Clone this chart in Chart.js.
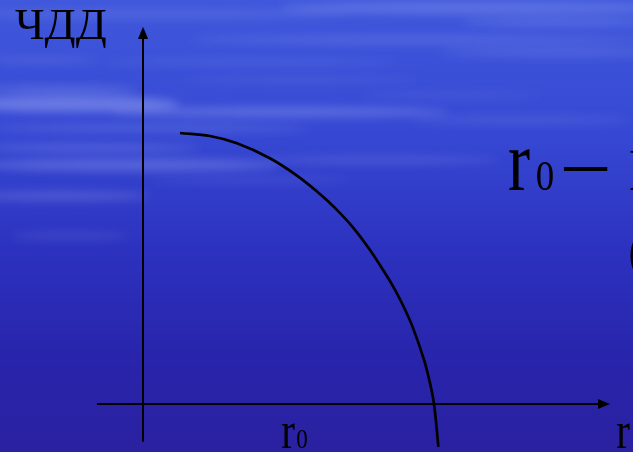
<!DOCTYPE html>
<html><head><meta charset="utf-8">
<script src="https://cdn.jsdelivr.net/npm/chart.js@4/dist/chart.umd.min.js"></script>
<style>html,body{margin:0;padding:0;background:#2a2aa8;overflow:hidden}canvas{display:block}</style>
</head><body>
<canvas id="c" width="633" height="452"></canvas>
<script>
// ---- data (r0 = 10 units, NPV at start = 100 units) ----
const rateValues = [1.27, 2.30, 3.23, 4.36, 5.29, 6.08, 6.60, 7.22, 7.80, 8.38, 8.66, 8.97, 9.28, 9.66, 9.86, 10.00, 10.15];
const npvValues  = [100, 98.9, 96.2, 90.7, 84.3, 77.5, 72.3, 65.1, 56.8, 47.2, 42.1, 35.6, 28.0, 16.2, 7.8, 0, -15.8];
const xAxisRates = [-1.58, 15.84];
const xAxisNpv   = [0, 0];
const yAxisRates = [0, 0];
const yAxisNpv   = [-13.9, 137.0];
const yAxisTitle = 'ЧДД';
const xAxisTitle = 'r';
const rootLabel  = ['r', '0'];
const noteLabel  = ['r', '0', '–', 'В', '('];

const toPts = (xs, ys) => xs.map((x, i) => ({x, y: ys[i]}));

// arrow head image used as point style
const arrow = document.createElement('canvas');
arrow.width = 10; arrow.height = 12;
(function(){const a = arrow.getContext('2d'); a.fillStyle = '#000'; a.beginPath(); a.moveTo(5,0); a.lineTo(10,12); a.lineTo(0,12); a.closePath(); a.fill();})();

function fitText(ctx, txt, l, t, r, b) {
  ctx.save();
  ctx.font = '60px "Liberation Serif", "Times New Roman", serif';
  ctx.textAlign = 'left'; ctx.textBaseline = 'alphabetic';
  const m = ctx.measureText(txt);
  const w = m.actualBoundingBoxLeft + m.actualBoundingBoxRight;
  const h = m.actualBoundingBoxAscent + m.actualBoundingBoxDescent;
  ctx.translate(l, t);
  ctx.scale((r - l) / w, (b - t) / h);
  ctx.fillStyle = '#000';
  ctx.fillText(txt, m.actualBoundingBoxLeft, m.actualBoundingBoxAscent);
  ctx.restore();
}

const background = {
  id: 'background',
  beforeDraw(chart) {
    const ctx = chart.ctx, W = chart.width, H = chart.height;
    ctx.save();
    const g = ctx.createLinearGradient(0, 0, 0, H);
    g.addColorStop(0, '#4058dc');
    g.addColorStop(0.3, '#3648d3');
    g.addColorStop(0.55, '#2c32bf');
    g.addColorStop(0.8, '#2824ab');
    g.addColorStop(1, '#2a21a0');
    ctx.fillStyle = g;
    ctx.fillRect(0, 0, W, H);
    const streaks = [
      [480, 8, 200, 6, 0.22], [150, 14, 200, 4, 0.14], [420, 40, 230, 4, 0.16], [560, 52, 120, 4, 0.16],
      [60, 90, 80, 4, 0.22], [70, 104, 110, 8, 0.35], [280, 112, 170, 5, 0.26], [150, 128, 160, 4, 0.16],
      [90, 148, 110, 4, 0.2], [130, 165, 150, 6, 0.25], [380, 160, 120, 4, 0.15], [60, 196, 90, 5, 0.2],
      [560, 22, 100, 4, 0.18], [250, 62, 150, 3, 0.12], [70, 236, 60, 4, 0.12], [520, 120, 110, 4, 0.12],
      [40, 60, 60, 3, 0.15], [300, 80, 120, 3, 0.1], [450, 95, 90, 3, 0.1], [250, 180, 100, 3, 0.1]
    ];
    ctx.filter = 'blur(5px)';
    for (const [cx, cy, rx, ry, a] of streaks) {
      ctx.fillStyle = `rgba(200,210,255,${a})`;
      ctx.beginPath(); ctx.ellipse(cx, cy, rx, ry, 0, 0, Math.PI * 2); ctx.fill();
    }
    ctx.restore();
  }
};

const labels = {
  id: 'labels',
  afterDraw(chart) {
    const ctx = chart.ctx;
    fitText(ctx, yAxisTitle, 15, 10, 106, 49);
    fitText(ctx, rootLabel[0], 282, 423, 295, 448);
    fitText(ctx, rootLabel[1], 297, 430, 307, 448.5);
    fitText(ctx, xAxisTitle, 617, 423, 630, 448);
    fitText(ctx, noteLabel[0], 509, 150, 530, 190);
    fitText(ctx, noteLabel[1], 537, 163.5, 553, 191);
    fitText(ctx, noteLabel[2], 563, 167.5, 608, 171.5);
    fitText(ctx, noteLabel[3], 630, 151.5, 656, 190);
    fitText(ctx, noteLabel[4], 630, 232, 643, 279);
  }
};

new Chart(document.getElementById('c'), {
  type: 'scatter',
  data: {
    datasets: [
      { data: toPts(xAxisRates, xAxisNpv), showLine: true, borderColor: '#000', borderWidth: 2,
        pointRadius: [0, 6], pointStyle: arrow, rotation: 90, clip: false },
      { data: toPts(yAxisRates, yAxisNpv), showLine: true, borderColor: '#000', borderWidth: 2,
        pointRadius: [0, 6], pointStyle: arrow, rotation: 0, clip: false },
      { data: toPts(rateValues, npvValues), showLine: true, borderColor: '#000', borderWidth: 2.7,
        pointRadius: 0, tension: 0.4, clip: false }
    ]
  },
  options: {
    responsive: false, animation: false, events: [],
    layout: { padding: 0, autoPadding: false },
    plugins: { legend: { display: false }, tooltip: { enabled: false } },
    scales: {
      x: { type: 'linear', display: false, min: -4.914, max: 16.838 },
      y: { type: 'linear', display: false, min: -17.712, max: 149.077 }
    }
  },
  plugins: [background, labels]
});
</script>
</body></html>
